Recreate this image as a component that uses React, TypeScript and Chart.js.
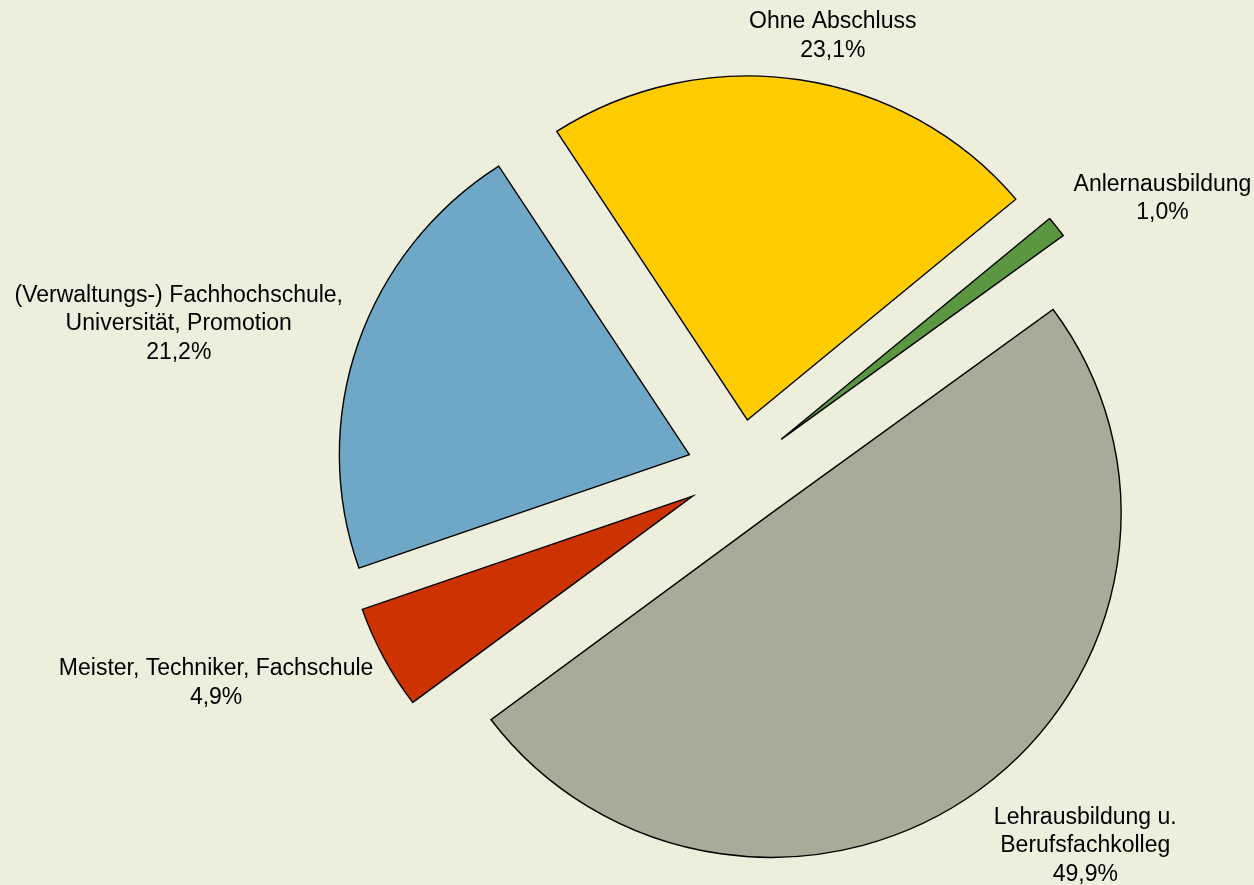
import React, { useEffect, useRef } from "react";
import { Chart, registerables } from "chart.js";

Chart.register(...registerables);

// ---- data ----
const categories: string[][] = [
  ["Ohne Abschluss"],
  ["Anlernausbildung"],
  ["Lehrausbildung u.", "Berufsfachkolleg"],
  ["Meister, Techniker, Fachschule"],
  ["(Verwaltungs-) Fachhochschule,", "Universität, Promotion"],
];
const shares: number[] = [23.1, 1.0, 49.9, 4.9, 21.2];
const sliceColors: string[] = ["#FFCC00", "#5B9640", "#AAAA99", "#CC3300", "#6FA8C6"];

// ---- style ----
const BG = "#EEEEDC";
const START_ROTATION = -33;
const RADIUS = 350;
const SCALE_Y = 0.983;
const EXPLODE = 53;
const FONT = '23px "Liberation Sans", Arial, sans-serif';
const LINE_H = 28.5;
const labelNudge: [number, number][] = [
  [21, -16],
  [36, -11],
  [51, 22.5],
  [-29, 12],
  [-24, -6],
];

const fmt = (v: number) => v.toFixed(1).replace(".", ",") + "%";

const explodePlugin = {
  id: "explodeAndLabels",
  beforeDatasetDraw(chart: any, args: any) {
    const meta = args.meta;
    const ctx = chart.ctx as CanvasRenderingContext2D;
    meta.data.forEach((arc: any) => {
      const mid = (arc.startAngle + arc.endAngle) / 2;
      ctx.save();
      ctx.translate(arc.x, arc.y);
      ctx.scale(1, SCALE_Y);
      ctx.translate(-arc.x, -arc.y);
      ctx.translate(Math.cos(mid) * EXPLODE, Math.sin(mid) * EXPLODE);
      arc.draw(ctx);
      ctx.restore();
    });
    return false;
  },
  afterDraw(chart: any) {
    const meta = chart.getDatasetMeta(0);
    const ctx = chart.ctx as CanvasRenderingContext2D;
    ctx.save();
    ctx.font = FONT;
    ctx.fillStyle = "#000";
    ctx.textAlign = "center";
    ctx.textBaseline = "middle";
    meta.data.forEach((arc: any, i: number) => {
      const lines = [...categories[i], fmt(shares[i])];
      const w = Math.max(...lines.map((l) => ctx.measureText(l).width));
      const h = lines.length * 28;
      const mid = (arc.startAngle + arc.endAngle) / 2;
      const dx = Math.cos(mid);
      const dy = Math.sin(mid);
      const r = EXPLODE + arc.outerRadius;
      const cx = arc.x + dx * r + (dx * w) / 2 + labelNudge[i][0];
      const cy = arc.y + dy * r * SCALE_Y + (dy * h) / 2 + labelNudge[i][1];
      lines.forEach((l, k) =>
        ctx.fillText(l, cx, cy + (k - (lines.length - 1) / 2) * LINE_H)
      );
    });
    ctx.restore();
  },
};

export default function App() {
  const ref = useRef<HTMLCanvasElement>(null);
  useEffect(() => {
    const chart = new Chart(ref.current as HTMLCanvasElement, {
      type: "pie",
      data: {
        labels: categories,
        datasets: [
          {
            data: shares,
            backgroundColor: sliceColors,
            borderColor: "#000",
            borderWidth: 1.4,
            borderJoinStyle: "miter",
          } as any,
        ],
      },
      options: {
        responsive: false,
        animation: false,
        events: [],
        rotation: START_ROTATION,
        radius: RADIUS,
        layout: { padding: { left: 225, top: 58, right: 0, bottom: 0 } },
        plugins: { legend: { display: false }, tooltip: { enabled: false } },
      } as any,
      plugins: [explodePlugin as any],
    });
    return () => chart.destroy();
  }, []);
  return (
    <div
      style={{
        position: "fixed",
        left: 0,
        top: 0,
        width: 1254,
        height: 885,
        background: BG,
      }}
    >
      <canvas ref={ref} width={1254} height={885} style={{ display: "block" }} />
    </div>
  );
}
